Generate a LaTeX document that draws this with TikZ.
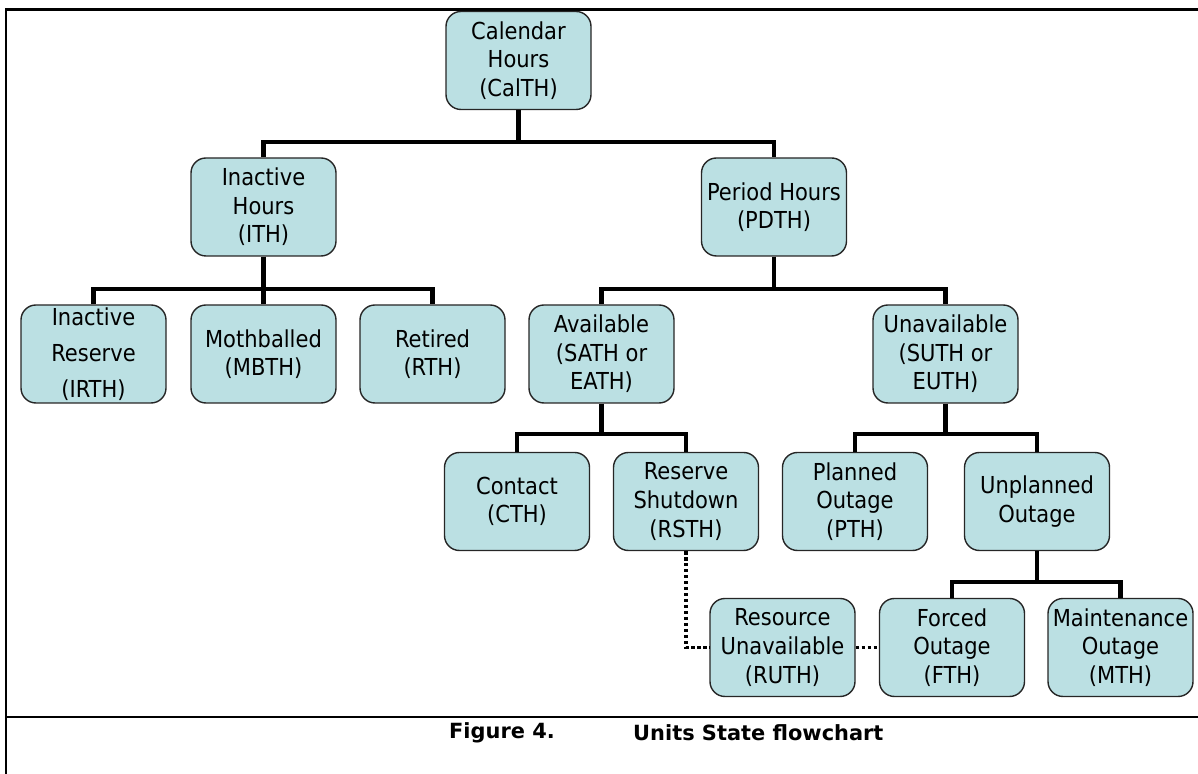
\documentclass[tikz,border=0pt]{standalone}
\usepackage{fontspec}
\setmainfont{DejaVu Sans}
\newfontfamily\boxfont{DejaVu Sans Condensed}
\usepackage{xcolor}
\usepackage{tikz}
\usetikzlibrary{positioning,calc}

\definecolor{statefill}{RGB}{187,224,227}

\begin{document}
\begin{tikzpicture}[
    state/.style={rectangle, draw=black!85, fill=statefill, line width=0.8pt,
                  rounded corners=8.5pt, minimum width=2.9cm, minimum height=1.96cm,
                  inner sep=1pt, align=center, font=\boxfont\fontsize{13.3}{16.3}\selectfont},
    link/.style={line width=2.4pt, black},
    dotlink/.style={line width=2.2pt, black, dash pattern=on 1.9pt off 1.5pt},
    frameline/.style={line width=1.7pt, black},
]
\useasboundingbox (0,0) rectangle (23.96,15.48);

% frame and caption
\draw[frameline] (0.12,0) -- (0.12,15.28) -- (23.96,15.28);
\draw[frameline] (0.12,1.14) -- (23.96,1.14);
\node[anchor=west, font=\bfseries\fontsize{11.9}{14}\selectfont] (fignum) at (8.86,0.82) {Figure 4.};
\node[anchor=west, font=\bfseries\fontsize{11.9}{14}\selectfont] (figcap) at (12.54,0.82) {Units State flowchart};

% bus points
\coordinate (calbus) at (10.37,12.64);
\coordinate (ithbus) at (5.27,9.70);
\coordinate (pdthbus) at (15.48,9.70);
\coordinate (availbus) at (12.03,6.80);
\coordinate (unavbus) at (18.91,6.80);
\coordinate (unplbus) at (20.74,3.84);

% level 1
\node[state] (calth) at (10.37,14.27) {Calendar\\Hours\\(CalTH)};

% level 2
\node[state] (ith) at (5.27,11.34) {Inactive\\Hours\\(ITH)};
\node[state] (pdth) at (15.48,11.34) {Period Hours\\(PDTH)};

% level 3
\node[state] (irth) at (1.87,8.40) {Inactive\\[4pt]Reserve\\[4pt](IRTH)};
\node[state] (mbth) at (5.27,8.40) {Mothballed\\(MBTH)};
\node[state] (rth) at (8.65,8.40) {Retired\\(RTH)};
\node[state] (avail) at (12.03,8.40) {Available\\(SATH or\\EATH)};
\node[state] (unavail) at (18.91,8.40) {Unavailable\\(SUTH or\\EUTH)};

% level 4
\node[state] (cth) at (10.34,5.45) {Contact\\(CTH)};
\node[state] (rsth) at (13.72,5.45) {Reserve\\Shutdown\\(RSTH)};
\node[state] (pth) at (17.10,5.45) {Planned\\Outage\\(PTH)};
\node[state] (unpl) at (20.74,5.45) {Unplanned\\Outage};

% level 5
\node[state] (ruth) at (15.65,2.53) {Resource\\Unavailable\\(RUTH)};
\node[state] (fth) at (19.04,2.53) {Forced\\Outage\\(FTH)};
\node[state] (mth) at (22.41,2.53) {Maintenance\\Outage\\(MTH)};

% tree links
\draw[link] (calth.south) -- (calbus);
\draw[link] (ith.north) |- (calbus) -| (pdth.north);
\draw[link] (ith.south) -- (ithbus);
\draw[link] (irth.north) |- (ithbus) -| (rth.north);
\draw[link] (mbth.north) -- (ithbus);
\draw[link] (pdth.south) -- (pdthbus);
\draw[link] (avail.north) |- (pdthbus) -| (unavail.north);
\draw[link] (avail.south) -- (availbus);
\draw[link] (cth.north) |- (availbus) -| (rsth.north);
\draw[link] (unavail.south) -- (unavbus);
\draw[link] (pth.north) |- (unavbus) -| (unpl.north);
\draw[link] (unpl.south) -- (unplbus);
\draw[link] (fth.north) |- (unplbus) -| (mth.north);

% dotted links
\draw[dotlink] (rsth.south) |- (ruth.west);
\draw[dotlink] (ruth.east) -- (fth.west);
\end{tikzpicture}
\end{document}
